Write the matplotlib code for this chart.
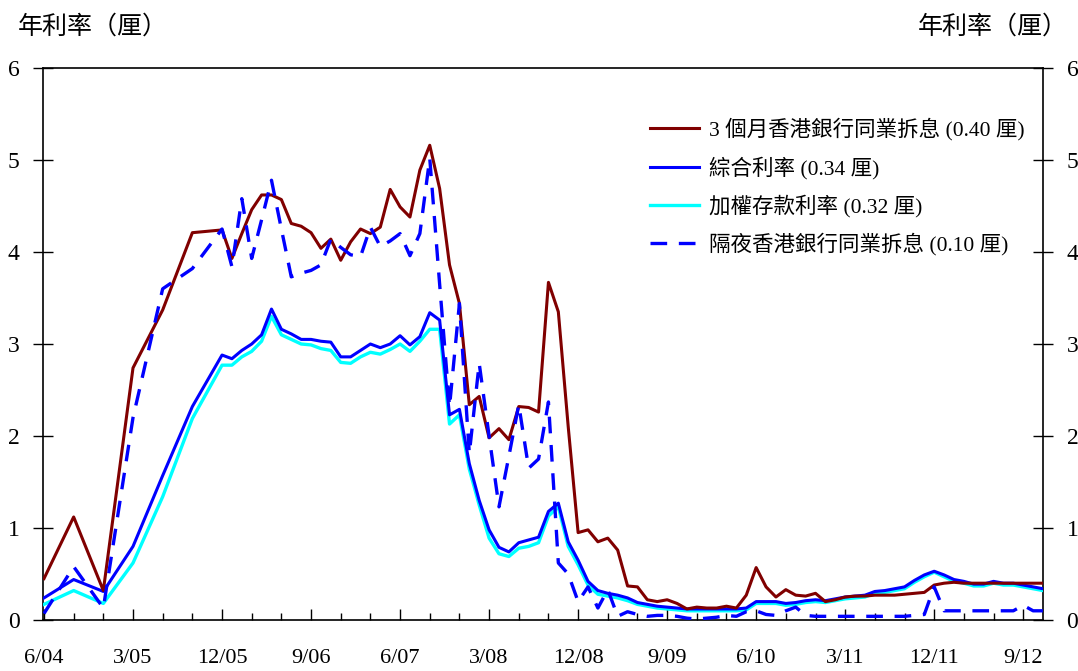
import matplotlib
matplotlib.use("Agg")
import matplotlib.pyplot as plt
import numpy as np

# ---- data (month index: 0 = 6/2004) ----
months_q = [0, 3, 6, 9, 12, 15]          # quarterly points 6/04 .. 9/05
months_m = list(range(18, 102))           # monthly points 12/05 .. 11/12
months = months_q + months_m

hibor_3m = [0.45, 1.12, 0.32, 2.74, 3.37, 4.21,
            4.24, 3.93, 4.20, 4.46, 4.62, 4.62, 4.57, 4.31, 4.28, 4.21,
            4.04, 4.14, 3.91, 4.11, 4.25, 4.20, 4.27, 4.68, 4.49, 4.38,
            4.89, 5.16, 4.69, 3.86, 3.44, 2.34, 2.43, 1.98, 2.08, 1.96,
            2.32, 2.31, 2.26, 3.67, 3.35, 2.10, 0.95, 0.98, 0.85, 0.89,
            0.76, 0.37, 0.36, 0.22, 0.20, 0.22, 0.18, 0.12, 0.14, 0.13,
            0.13, 0.15, 0.13, 0.27, 0.57, 0.36, 0.25, 0.33, 0.27, 0.26,
            0.29, 0.20, 0.22, 0.25, 0.26, 0.26, 0.27, 0.27, 0.27, 0.28,
            0.29, 0.30, 0.38, 0.40, 0.41, 0.40, 0.40, 0.40, 0.40, 0.40,
            0.40, 0.40, 0.40, 0.40]

composite = [0.24, 0.44, 0.31, 0.80, 1.57, 2.32,
             2.88, 2.84, 2.93, 3.00, 3.10, 3.38, 3.16, 3.11, 3.05, 3.05,
             3.03, 3.02, 2.86, 2.86, 2.93, 3.00, 2.96, 3.00, 3.09, 2.99,
             3.08, 3.34, 3.26, 2.23, 2.29, 1.70, 1.30, 0.98, 0.79, 0.74,
             0.84, 0.87, 0.90, 1.18, 1.27, 0.85, 0.65, 0.42, 0.32, 0.29,
             0.27, 0.24, 0.19, 0.17, 0.15, 0.14, 0.13, 0.12, 0.12, 0.12,
             0.12, 0.12, 0.12, 0.13, 0.20, 0.20, 0.20, 0.18, 0.19, 0.21,
             0.22, 0.21, 0.23, 0.25, 0.26, 0.27, 0.31, 0.32, 0.34, 0.36,
             0.43, 0.49, 0.53, 0.49, 0.44, 0.42, 0.39, 0.39, 0.42, 0.40,
             0.40, 0.38, 0.36, 0.34]

deposit = [0.17, 0.32, 0.18, 0.62, 1.34, 2.19,
           2.77, 2.77, 2.86, 2.92, 3.03, 3.30, 3.10, 3.05, 3.00, 2.99,
           2.95, 2.93, 2.80, 2.79, 2.86, 2.91, 2.89, 2.94, 3.00, 2.92,
           3.03, 3.16, 3.16, 2.13, 2.23, 1.64, 1.25, 0.89, 0.72, 0.69,
           0.78, 0.80, 0.84, 1.13, 1.23, 0.80, 0.60, 0.38, 0.28, 0.26,
           0.24, 0.21, 0.17, 0.15, 0.13, 0.12, 0.11, 0.10, 0.10, 0.10,
           0.10, 0.10, 0.10, 0.11, 0.18, 0.18, 0.18, 0.16, 0.17, 0.19,
           0.20, 0.19, 0.21, 0.23, 0.24, 0.25, 0.29, 0.30, 0.32, 0.34,
           0.41, 0.47, 0.52, 0.47, 0.42, 0.40, 0.37, 0.37, 0.40, 0.38,
           0.38, 0.36, 0.34, 0.32]

hibor_on = [0.07, 0.58, 0.13, 2.20, 3.60, 3.82,
            4.25, 3.84, 4.58, 3.93, 4.35, 4.78, 4.25, 3.73, 3.77, 3.80,
            3.86, 4.14, 4.05, 3.97, 3.95, 4.27, 4.06, 4.12, 4.20, 3.96,
            4.20, 5.02, 3.65, 2.32, 3.44, 1.81, 2.79, 2.00, 1.23, 1.78,
            2.34, 1.65, 1.75, 2.37, 0.62, 0.50, 0.20, 0.36, 0.13, 0.33,
            0.04, 0.09, 0.06, 0.04, 0.05, 0.05, 0.04, 0.02, 0.01, 0.02,
            0.03, 0.05, 0.04, 0.09, 0.10, 0.06, 0.05, 0.10, 0.14, 0.05,
            0.04, 0.04, 0.04, 0.04, 0.04, 0.04, 0.04, 0.04, 0.04, 0.04,
            0.05, 0.06, 0.36, 0.10, 0.10, 0.10, 0.10, 0.10, 0.10, 0.10,
            0.10, 0.16, 0.10, 0.10]

series_labels = ["3 個月香港銀行同業拆息 (0.40 厘)",
                 "綜合利率 (0.34 厘)",
                 "加權存款利率 (0.32 厘)",
                 "隔夜香港銀行同業拆息 (0.10 厘)"]

tick_labels = ["6/04", "3/05", "12/05", "9/06", "6/07", "3/08",
               "12/08", "9/09", "6/10", "3/11", "12/11", "9/12"]
axis_title = "年利率（厘）"

# ---- style ----
FONT = ["Liberation Serif", "Noto Sans CJK TC"]
plt.rcParams["font.family"] = FONT
plt.rcParams["font.size"] = 16

fig = plt.figure(figsize=(10.78, 6.71), dpi=100)
ax = fig.add_axes([43 / 1078, 1 - 620 / 671, 1000 / 1078, 552 / 671])

ax.plot(months, deposit, color="#00FFFF", lw=2.4, label=series_labels[2], zorder=3)
ax.plot(months, composite, color="#0000FF", lw=2.2, label=series_labels[1], zorder=4)
ax.plot(months, hibor_3m, color="#800000", lw=2.2, label=series_labels[0], zorder=5)
ax.plot(months, hibor_on, color="#0000FF", lw=2.4, dashes=(5, 3.5),
        label=series_labels[3], zorder=6)

ax.set_xlim(-0.1, 101)
ax.set_ylim(0, 6)

major = np.arange(0, 101, 9)
minor = np.arange(0, 102, 3)
ax.set_xticks(major)
ax.set_xticklabels(tick_labels)
ax.set_xticks(minor, minor=True)
ax.tick_params(axis="x", which="major", direction="in", length=8, width=1,
               pad=21, labelsize=16)
ax.tick_params(axis="x", which="minor", direction="in", length=5, width=1)

ax.set_yticks(range(0, 7))
ax.tick_params(axis="y", which="both", direction="inout", length=14, width=1,
               labelsize=17, left=True, right=True, labelleft=True,
               labelright=True, pad=10)

for s in ax.spines.values():
    s.set_linewidth(1.2)

fig.text(18 / 1078, 1 - 27 / 671, axis_title, ha="left", va="center",
         fontsize=18, family=["Noto Sans CJK TC"])
fig.text(1068 / 1078, 1 - 27 / 671, axis_title, ha="right", va="center",
         fontsize=18, family=["Noto Sans CJK TC"])

h, l = ax.get_legend_handles_labels()
order = [2, 1, 0, 3]
ax.legend([h[i] for i in order], [l[i] for i in order],
          loc="upper left", bbox_to_anchor=(0.598, 0.925), frameon=False,
          fontsize=15.5, handlelength=2.3, handletextpad=0.45,
          labelspacing=0.72, borderaxespad=0)

fig.savefig("out.png", dpi=100)
